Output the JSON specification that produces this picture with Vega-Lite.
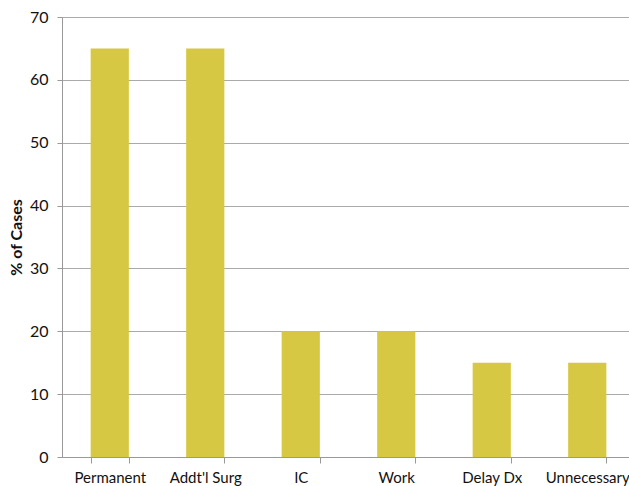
{
  "$schema": "https://vega.github.io/schema/vega-lite/v6.json",
  "autosize": "none",
  "padding": {"left": 62, "top": 17, "right": 0, "bottom": 29},
  "width": 573,
  "height": 440,
  "background": "white",
  "config": {"view": {"stroke": null}, "font": "Lato"},
  "data": {"values": [
    {"category": "Permanent", "pct": 65},
    {"category": "Addt'l Surg", "pct": 65},
    {"category": "IC", "pct": 20},
    {"category": "Work", "pct": 20},
    {"category": "Delay Dx", "pct": 15},
    {"category": "Unnecessary", "pct": 15}
  ]},
  "mark": {"type": "bar", "color": "#D6C843"},
  "encoding": {
    "x": {
      "field": "category", "type": "nominal", "sort": null,
      "scale": {"paddingInner": 0.6, "paddingOuter": 0.3},
      "axis": {
        "title": null, "labelAngle": 0, "labelFontSize": 15, "labelColor": "#111",
        "labelPadding": 7, "tickBand": "extent", "tickSize": 6, "tickColor": "#999",
        "domainColor": "#999", "grid": false
      }
    },
    "y": {
      "field": "pct", "type": "quantitative",
      "scale": {"domain": [0, 70]},
      "axis": {
        "title": "% of Cases", "titleFontSize": 16, "titleFontWeight": "bold", "titleColor": "#111",
        "titlePadding": 5, "values": [0, 10, 20, 30, 40, 50, 60, 70],
        "labelFontSize": 16, "labelColor": "#111", "labelPadding": 9,
        "tickSize": 5, "tickColor": "#999", "domainColor": "#999",
        "grid": true, "gridColor": "#aaa", "gridWidth": 1
      }
    }
  }
}
